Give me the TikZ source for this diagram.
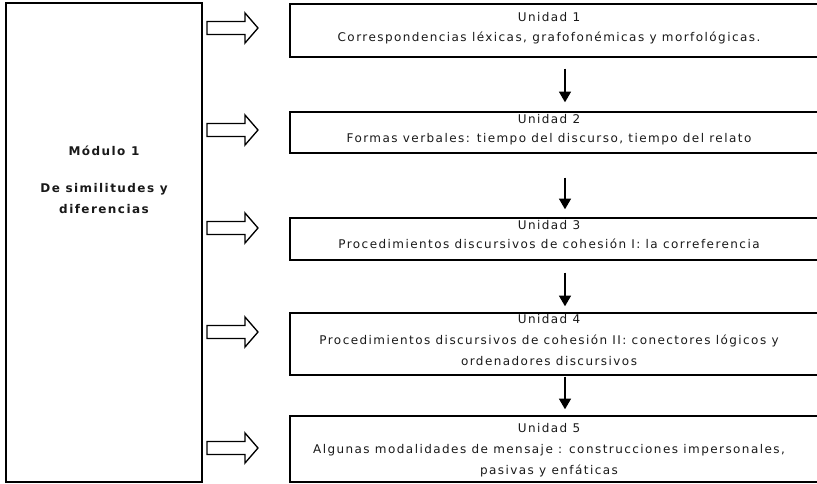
\documentclass[tikz,border=0pt]{standalone}
\usepackage{fontspec}
\setmainfont{DejaVu Sans}[LetterSpace=12]
\usetikzlibrary{arrows.meta,fit}
\tikzset{
  frame/.style={draw=black, line width=1.1pt, inner sep=0pt, fill=none},
  modframe/.style={draw=black, line width=1.5pt, inner sep=0pt},
  txt/.style={anchor=base, inner sep=0pt, font=\fontsize{9pt}{11pt}\selectfont, text=black!90},
  btxt/.style={anchor=base, inner sep=0pt, font=\fontsize{9pt}{11pt}\selectfont\bfseries, text=black!90},
  darrow/.style={draw=black, line width=1.1pt, -{Triangle[width=9pt,length=8pt]}},
  blockarrow/.pic={\draw[line width=1pt, fill=white, line join=miter]
     (0,-6.5) -- (38,-6.5) -- (38,-15) -- (51,0) -- (38,15) -- (38,6.5) -- (0,6.5) -- cycle;}
}
\begin{document}
\begin{tikzpicture}[x=0.75pt, y=-0.75pt]
\clip (0,0) rectangle (817,483);
% module box
\coordinate (m1) at (6,3);
\coordinate (m2) at (202,482);
\node[modframe, fit=(m1)(m2)] (mod) {};
\node[btxt] (modt) at (104,155) {Módulo 1};
\node[btxt] (mods1) at (104,192) {De similitudes y};
\node[btxt] (mods2) at (104,213) {diferencias};
% unit boxes (open to the right, running past the edge)
\coordinate (a1) at (290,4);   \coordinate (c1) at (840,57);
\coordinate (a2) at (290,112); \coordinate (c2) at (840,153);
\coordinate (a3) at (290,218); \coordinate (c3) at (840,260);
\coordinate (a4) at (290,313); \coordinate (c4) at (840,375);
\coordinate (a5) at (290,416); \coordinate (c5) at (840,482);
\node[frame, fit=(a1)(c1)] (b1) {};
\node[frame, fit=(a2)(c2)] (b2) {};
\node[frame, fit=(a3)(c3)] (b3) {};
\node[frame, fit=(a4)(c4)] (b4) {};
\node[frame, fit=(a5)(c5)] (b5) {};
% texts
\node[txt] (u1a) at (549,21) {Unidad 1};
\node[txt] (u1b) at (549,41) {Correspondencias léxicas, grafofonémicas y morfológicas.};
\node[txt] (u2a) at (549,123) {Unidad 2};
\node[txt] (u2b) at (549,142) {Formas verbales: tiempo del discurso, tiempo del relato};
\node[txt] (u3a) at (549,229) {Unidad 3};
\node[txt] (u3b) at (549,248) {Procedimientos discursivos de cohesión I: la correferencia};
\node[txt] (u4a) at (549,323) {Unidad 4};
\node[txt] (u4b) at (549,344) {Procedimientos discursivos de cohesión II: conectores lógicos y};
\node[txt] (u4c) at (549,365) {ordenadores discursivos};
\node[txt] (u5a) at (549,432) {Unidad 5};
\node[txt] (u5b) at (549,453) {Algunas modalidades de mensaje : construcciones impersonales,};
\node[txt] (u5c) at (549,474) {pasivas y enfáticas};
% down arrows
\draw[darrow, shorten <=8.25pt, shorten >=6.75pt] (b1.south) -- (b2.north);
\draw[darrow, shorten <=18pt, shorten >=6pt] (b2.south) -- (b3.north);
\draw[darrow, shorten <=9pt, shorten >=4.5pt] (b3.south) -- (b4.north);
\draw[darrow, shorten <=0.75pt, shorten >=4.5pt] (b4.south) -- (b5.north);
% block arrows
\pic at (207,28) {blockarrow};
\pic at (207,130) {blockarrow};
\pic at (207,228) {blockarrow};
\pic at (207,332) {blockarrow};
\pic at (207,448) {blockarrow};
\end{tikzpicture}
\end{document}
